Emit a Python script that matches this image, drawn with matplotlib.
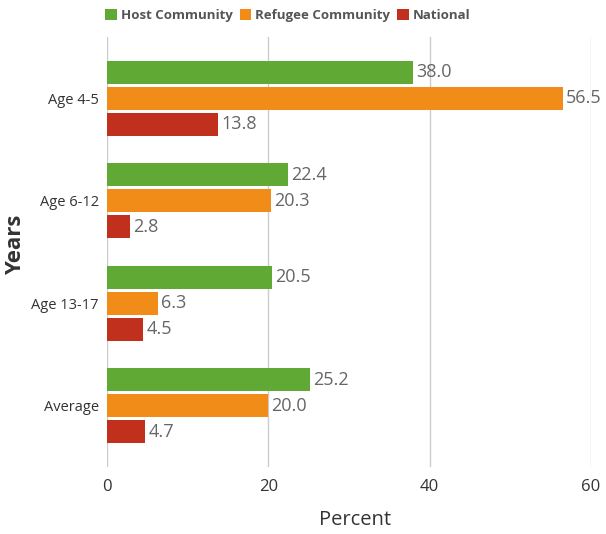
import matplotlib
matplotlib.use("Agg")
import matplotlib.pyplot as plt
import numpy as np

categories = ["Age 4-5", "Age 6-12", "Age 13-17", "Average"]
series_names = ["Host Community", "Refugee Community", "National"]
host = [38.0, 22.4, 20.5, 25.2]
refugee = [56.5, 20.3, 6.3, 20.0]
national = [13.8, 2.8, 4.5, 4.7]
x_ticks = [0, 20, 40, 60]

colors = ["#5fa934", "#f28c18", "#c0301d"]

plt.rcParams['font.family'] = ['Open Sans', 'DejaVu Sans']

fig = plt.figure(figsize=(6.06, 5.34), dpi=100)
ax = fig.add_axes([0.1766, 0.1255, 0.7984, 0.8052])

y = np.arange(len(categories))
step = 0.254
h = 0.225
for i, (vals, name, c) in enumerate(zip([host, refugee, national], series_names, colors)):
    pos = y + (i - 1) * step
    ax.barh(pos, vals, height=h, color=c, label=name, zorder=3)
    for p, v in zip(pos, vals):
        ax.text(v + 0.4, p, f"{v:.1f}", va='center', ha='left', fontsize=13, color='#666666')

ax.set_ylim(3.6, -0.6)
ax.set_xlim(0, 60)
ax.set_xticks(x_ticks)
ax.set_xticklabels([str(t) for t in x_ticks], fontsize=12, color='#333333')
ax.set_yticks(y)
ax.set_yticklabels(categories, fontsize=10.5, color='#333333', fontweight='medium')
ax.tick_params(axis='both', length=0)
ax.tick_params(axis='x', pad=9)
ax.tick_params(axis='y', pad=6)
for s in ax.spines.values():
    s.set_visible(False)
ax.grid(axis='x', color='#cccccc', linewidth=1, zorder=0)
ax.set_axisbelow(True)
ax.set_xlabel("Percent", fontsize=14.5, color='#333333')
ax.set_ylabel("Years", fontsize=16, fontweight='bold', color='#333333')
ax.xaxis.set_label_coords(355 / 606, 1 - 520 / 534, transform=fig.transFigure)
ax.yaxis.set_label_coords(16 / 606, 1 - 245 / 534, transform=fig.transFigure)
ax.xaxis.label.set_va('center')
ax.yaxis.label.set_va('center')

leg = fig.legend(loc='upper center', bbox_to_anchor=(0.475, 1.005), ncol=3, frameon=False,
                 handlelength=0.9, handleheight=0.9, handletextpad=0.3,
                 columnspacing=0.5, prop={'weight': 'bold', 'size': 9.5})
for t in leg.get_texts():
    t.set_color('#555555')

fig.savefig("out.png", dpi=100)
